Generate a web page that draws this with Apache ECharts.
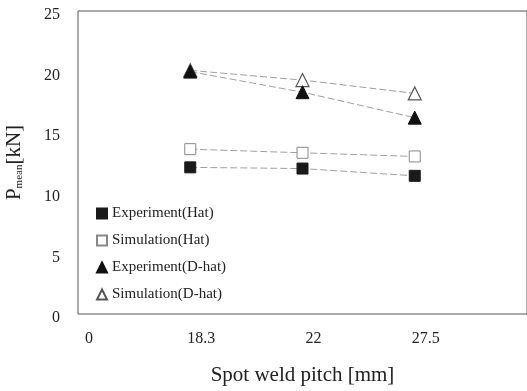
<!DOCTYPE html>
<html>
<head>
<meta charset="utf-8">
<script src="https://cdn.jsdelivr.net/npm/echarts@6/dist/echarts.min.js"></script>
<style>
  html, body { margin: 0; padding: 0; background: #fff; }
  #chart { width: 527px; height: 391px; }
</style>
</head>
<body>
<div id="chart"></div>
<script>
// Spot weld pitch categories (last slot is an empty spacer)
var pitchLabels = ['0', '18.3', '22', '27.5', ''];
// Mean crushing load P_mean [kN]
var expHat = [null, 12.1, 12.0, 11.4];
var simHat = [null, 13.6, 13.3, 13.0];
var expDHat = [null, 20.0, 18.3, 16.2];
var simDHat = [null, 20.1, 19.3, 18.2];
var yTicks = { min: 0, max: 25, step: 5 };

var serif = '"Liberation Serif", "DejaVu Serif", serif';
var lineStyle = { color: '#a0a0a0', width: 1, type: [7, 3] };

var chart = echarts.init(document.getElementById('chart'));
chart.setOption({
  backgroundColor: '#fff',
  animation: false,
  grid: {
    left: 78, right: 0, top: 11, bottom: 77,
    containLabel: false,
    outerBoundsMode: 'none',
    show: true, borderColor: '#555', borderWidth: 1
  },
  legend: {
    orient: 'vertical',
    left: 91, top: 201,
    itemWidth: 10, itemHeight: 10,
    itemGap: 12,
    textStyle: { fontFamily: serif, fontSize: 15, color: '#222' },
    data: [
      { name: 'Experiment(Hat)', icon: 'rect' },
      { name: 'Simulation(Hat)', icon: 'rect' },
      { name: 'Experiment(D-hat)', icon: 'triangle' },
      { name: 'Simulation(D-hat)', icon: 'triangle' }
    ]
  },
  xAxis: {
    type: 'category',
    data: pitchLabels,
    boundaryGap: false,
    name: 'Spot weld pitch [mm]',
    nameLocation: 'middle',
    nameGap: 51,
    nameTextStyle: { fontFamily: serif, fontSize: 21, color: '#222' },
    axisLine: { show: false },
    axisTick: { show: false },
    splitLine: { show: false },
    axisLabel: {
      fontFamily: serif, fontSize: 16, color: '#222',
      margin: 17, padding: [0, 0, 0, 22]
    }
  },
  yAxis: {
    type: 'value',
    min: yTicks.min, max: yTicks.max, interval: yTicks.step,
    name: '{p|P}{s|mean}{p|[kN]}',
    nameLocation: 'middle',
    nameGap: 53,
    nameRotate: 90,
    nameTextStyle: {
      rich: {
        p: { fontFamily: serif, fontSize: 21, color: '#222' },
        s: { fontFamily: serif, fontSize: 11, color: '#222', verticalAlign: 'bottom', padding: [9, 0, 0, 0] }
      }
    },
    axisLine: { show: false },
    axisTick: { show: false },
    splitLine: { show: false },
    axisLabel: {
      fontFamily: serif, fontSize: 16, color: '#222', margin: 18,
      verticalAlign: 'top', lineHeight: 8
    }
  },
  series: [
    {
      name: 'Simulation(D-hat)', type: 'line', data: simDHat,
      symbol: 'triangle', symbolSize: 13,
      itemStyle: { color: '#fff', borderColor: '#555', borderWidth: 1.2 },
      lineStyle: lineStyle
    },
    {
      name: 'Experiment(D-hat)', type: 'line', data: expDHat,
      symbol: 'triangle', symbolSize: 13,
      itemStyle: { color: '#111', borderColor: '#111', borderWidth: 1 },
      lineStyle: lineStyle
    },
    {
      name: 'Simulation(Hat)', type: 'line', data: simHat,
      symbol: 'rect', symbolSize: 11,
      itemStyle: { color: '#fff', borderColor: '#888', borderWidth: 1 },
      lineStyle: lineStyle
    },
    {
      name: 'Experiment(Hat)', type: 'line', data: expHat,
      symbol: 'rect', symbolSize: 11,
      itemStyle: { color: '#1a1a1a', borderColor: '#1a1a1a', borderWidth: 1 },
      lineStyle: lineStyle
    }
  ]
});
</script>
</body>
</html>
